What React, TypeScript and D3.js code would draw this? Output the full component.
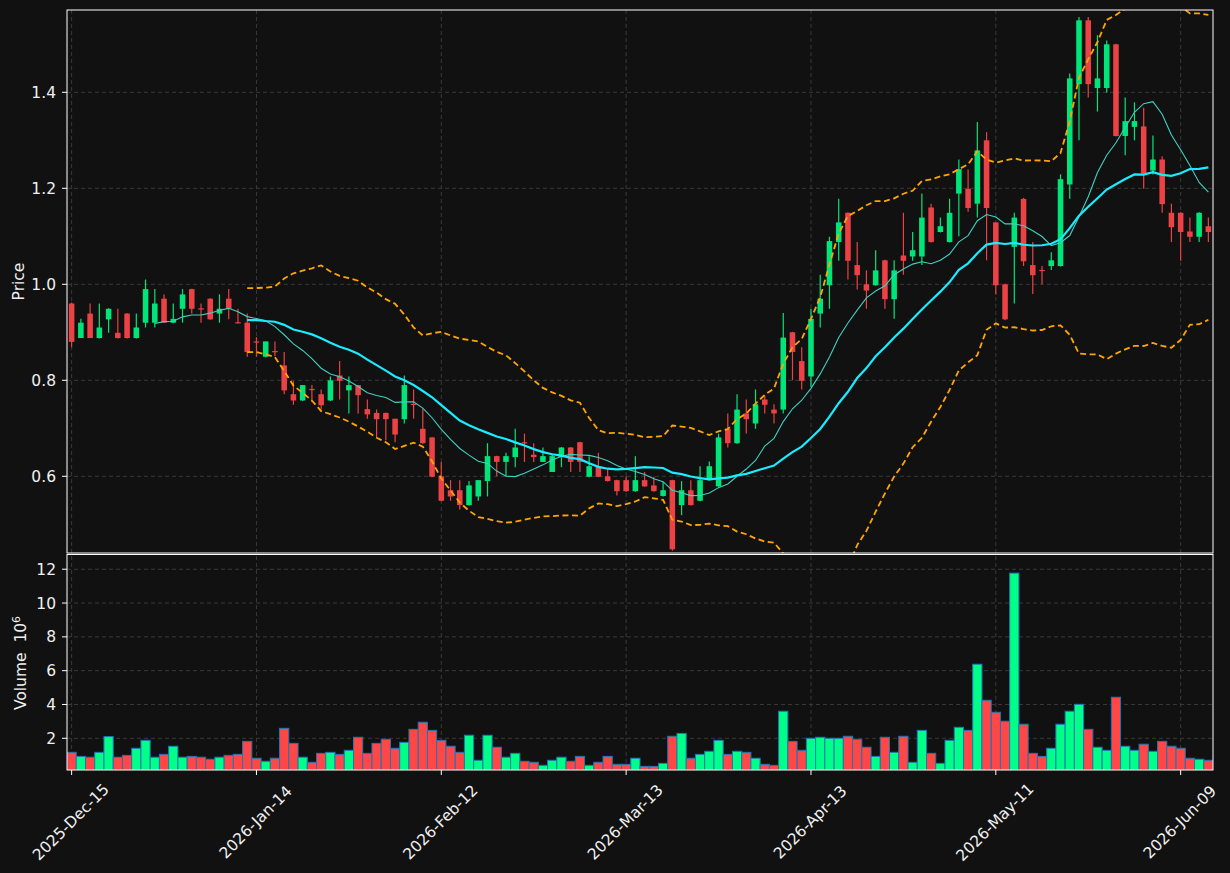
import React from "react";
import * as d3 from "d3";

const opens = [0.96,0.888,0.939,0.888,0.927,0.899,0.939,0.888,0.92,0.92,0.97,0.92,0.949,0.99,0.95,0.97,0.939,0.97,0.921,0.92,0.881,0.849,0.861,0.831,0.771,0.758,0.782,0.771,0.758,0.81,0.779,0.79,0.74,0.732,0.732,0.72,0.719,0.751,0.699,0.681,0.6,0.571,0.571,0.54,0.558,0.59,0.642,0.63,0.64,0.671,0.645,0.63,0.609,0.64,0.66,0.671,0.599,0.621,0.6,0.592,0.592,0.569,0.592,0.581,0.559,0.592,0.54,0.571,0.549,0.592,0.579,0.699,0.669,0.731,0.71,0.76,0.739,0.739,0.9,0.84,0.808,0.939,0.998,1.088,1.149,1.04,1.0,0.998,1.05,0.969,1.06,1.058,1.058,1.16,1.109,1.088,1.189,1.199,1.168,1.3,1.129,1.0,1.078,1.178,1.04,1.03,1.038,1.038,1.208,1.417,1.55,1.409,1.409,1.5,1.309,1.328,1.329,1.237,1.26,1.149,1.149,1.11,1.099,1.121];
const highs = [0.962,0.928,0.96,0.96,0.95,0.949,0.94,0.939,1.01,0.99,0.979,0.96,0.99,0.991,0.96,0.971,0.979,0.99,0.949,0.939,0.89,0.881,0.881,0.859,0.798,0.79,0.79,0.781,0.808,0.84,0.808,0.79,0.76,0.739,0.733,0.72,0.81,0.781,0.741,0.682,0.63,0.592,0.592,0.59,0.592,0.669,0.643,0.649,0.699,0.689,0.669,0.66,0.647,0.661,0.661,0.672,0.642,0.649,0.616,0.593,0.6,0.642,0.609,0.599,0.588,0.593,0.59,0.592,0.621,0.631,0.689,0.731,0.771,0.76,0.781,0.769,0.75,0.94,0.901,0.869,0.949,1.02,1.099,1.178,1.15,1.088,1.029,1.071,1.051,1.05,1.149,1.109,1.189,1.168,1.139,1.178,1.26,1.239,1.338,1.317,1.13,1.001,1.149,1.18,1.088,1.038,1.067,1.229,1.439,1.557,1.557,1.519,1.508,1.501,1.389,1.379,1.368,1.31,1.267,1.168,1.15,1.139,1.15,1.139];
const lows = [0.869,0.888,0.888,0.887,0.899,0.887,0.887,0.887,0.91,0.91,0.92,0.919,0.92,0.939,0.92,0.926,0.92,0.927,0.919,0.849,0.849,0.848,0.85,0.771,0.749,0.757,0.755,0.739,0.757,0.76,0.731,0.731,0.72,0.682,0.675,0.671,0.71,0.72,0.668,0.598,0.548,0.549,0.531,0.539,0.549,0.558,0.6,0.6,0.619,0.63,0.63,0.63,0.609,0.619,0.609,0.609,0.598,0.598,0.589,0.56,0.568,0.568,0.578,0.568,0.558,0.445,0.519,0.539,0.548,0.591,0.578,0.66,0.668,0.689,0.699,0.731,0.71,0.731,0.8,0.781,0.786,0.91,0.949,1.049,1.01,0.989,0.949,0.997,0.949,0.928,1.02,1.049,1.04,1.087,1.108,1.087,1.1,1.151,1.139,1.05,0.979,0.925,0.96,1.038,0.98,1.0,1.03,1.037,1.178,1.3,1.389,1.36,1.399,1.308,1.269,1.3,1.199,1.229,1.149,1.088,1.049,1.088,1.088,1.088];
const closes = [0.88,0.92,0.888,0.91,0.949,0.888,0.888,0.91,0.99,0.96,0.92,0.928,0.979,0.949,0.948,0.927,0.949,0.949,0.919,0.859,0.879,0.881,0.859,0.779,0.758,0.79,0.78,0.748,0.8,0.799,0.79,0.769,0.729,0.719,0.719,0.687,0.79,0.749,0.669,0.599,0.549,0.558,0.54,0.581,0.592,0.642,0.63,0.642,0.66,0.669,0.64,0.642,0.642,0.66,0.63,0.63,0.621,0.599,0.59,0.569,0.569,0.592,0.579,0.569,0.571,0.448,0.571,0.54,0.592,0.621,0.681,0.669,0.739,0.719,0.75,0.749,0.731,0.889,0.859,0.799,0.928,0.97,1.09,1.129,1.049,1.019,0.987,1.029,0.969,1.029,1.049,1.071,1.139,1.088,1.121,1.149,1.24,1.159,1.279,1.159,0.998,0.927,1.139,1.048,1.019,1.028,1.05,1.219,1.429,1.55,1.417,1.429,1.5,1.309,1.34,1.34,1.231,1.26,1.167,1.119,1.109,1.099,1.149,1.109];
const volumes = [1.17,0.93,0.88,1.17,2.10,0.88,0.99,1.41,1.88,0.88,1.05,1.53,0.88,0.93,0.88,0.76,0.88,0.99,1.05,1.82,0.82,0.64,0.82,2.59,1.70,0.88,0.58,1.11,1.17,1.05,1.29,2.06,1.11,1.70,1.94,1.41,1.76,2.53,2.95,2.47,1.88,1.53,1.17,2.18,0.70,2.18,1.47,0.88,1.11,0.64,0.58,0.40,0.70,0.88,0.64,0.93,0.40,0.58,0.93,0.46,0.46,0.82,0.34,0.34,0.52,2.12,2.29,0.82,1.05,1.23,1.88,1.05,1.23,1.17,0.82,0.46,0.40,3.60,1.82,1.29,2.0,2.06,2.0,2.0,2.12,1.94,1.47,0.93,2.06,1.17,2.12,0.58,2.47,1.11,0.52,1.88,2.65,2.47,6.38,4.25,3.54,3.01,11.77,2.83,1.11,0.93,1.41,2.83,3.60,4.01,2.53,1.47,1.29,4.43,1.53,1.29,1.65,1.23,1.82,1.53,1.41,0.82,0.76,0.70];

const tickIndex = [0, 20, 40, 60, 80, 100, 120];
const tickLabels = ["2025-Dec-15", "2026-Jan-14", "2026-Feb-12", "2026-Mar-13", "2026-Apr-13", "2026-May-11", "2026-Jun-09"];
const priceTicks = [0.6, 0.8, 1.0, 1.2, 1.4];
const volumeTicks = [2, 4, 6, 8, 10, 12];

const W = 1230, H = 873;
const L = 67, R = 1213, T = 10, MID = 553, B = 770;

function rolling(vals: number[], n: number) {
  return vals.map((_, i) => {
    if (i < n - 1) return null;
    const w = vals.slice(i - n + 1, i + 1);
    const m = d3.mean(w) as number;
    const sd = Math.sqrt(d3.mean(w.map(v => (v - m) * (v - m))) as number);
    return { m, sd };
  });
}

export default function App() {
  const n = closes.length;
  const x = d3.scaleLinear().domain([-0.5, n - 0.5]).range([L, R]);
  const y = d3.scaleLinear().domain([0.4402, 1.5715]).range([MID, T]);
  const yv = d3.scaleLinear().domain([0.124, 12.96]).range([B, MID]);
  const step = x(1) - x(0);

  const ma10 = rolling(closes, 10);
  const ma20 = rolling(closes, 20);
  const mk = (acc: (d: any) => number) =>
    d3.line<any>().defined(d => d.v != null).x(d => x(d.i)).y(d => y(acc(d.v)));
  const pts = (arr: any[]) => arr.map((v, i) => ({ i, v }));
  const ma10Path = mk(v => v.m)(pts(ma10));
  const ma20Path = mk(v => v.m)(pts(ma20));
  const upPath = mk(v => v.m + 2 * v.sd)(pts(ma20));
  const loPath = mk(v => v.m - 2 * v.sd)(pts(ma20));

  const upC = "#00e57a", dnC = "#ec4245";
  const upV = "#00ff88", dnV = "#ff4747";
  const grid = "#3e3e3e";
  const txt = "#f0f0f0";
  const fs = 15.5;
  const font = "DejaVu Sans, sans-serif";

  return (
    <svg width={W} height={H} style={{ position: "absolute", left: 0, top: 0, display: "block" }} fontFamily={font}>
      <rect x={0} y={0} width={W} height={H} fill="#111111" />
      <defs>
        <clipPath id="mainClip"><rect x={L} y={T} width={R - L} height={MID - T} /></clipPath>
        <clipPath id="volClip"><rect x={L} y={MID} width={R - L} height={B - MID} /></clipPath>
      </defs>
      {tickIndex.map(t => (
        <line key={"vg" + t} x1={x(t)} x2={x(t)} y1={T} y2={B} stroke={grid} strokeWidth={0.9} strokeDasharray="4,3" />
      ))}
      {priceTicks.map(p => (
        <line key={"pg" + p} x1={L} x2={R} y1={y(p)} y2={y(p)} stroke={grid} strokeWidth={0.9} strokeDasharray="4,3" />
      ))}
      {volumeTicks.map(v => (
        <line key={"vgv" + v} x1={L} x2={R} y1={yv(v)} y2={yv(v)} stroke={grid} strokeWidth={0.9} strokeDasharray="4,3" />
      ))}
      <g clipPath="url(#mainClip)">
        {closes.map((c, i) => {
          const o = opens[i];
          const up = c >= o;
          const col = up ? upC : dnC;
          const top = y(Math.max(o, c));
          const bot = y(Math.min(o, c));
          const bw = step * 0.6;
          return (
            <g key={"c" + i}>
              <line x1={x(i)} x2={x(i)} y1={y(highs[i])} y2={y(lows[i])} stroke={col} strokeWidth={1.2} />
              <rect x={x(i) - bw / 2} y={top} width={bw} height={Math.max(bot - top, 1.2)} fill={col} />
            </g>
          );
        })}
        <path d={upPath || ""} fill="none" stroke="#ffa500" strokeWidth={1.8} strokeDasharray="6,3.5" />
        <path d={loPath || ""} fill="none" stroke="#ffa500" strokeWidth={1.8} strokeDasharray="6,3.5" />
        <path d={ma10Path || ""} fill="none" stroke="#40d0c0" strokeWidth={1.1} />
        <path d={ma20Path || ""} fill="none" stroke="#19ecff" strokeWidth={2.2} />
      </g>
      <g clipPath="url(#volClip)">
        {volumes.map((v, i) => {
          const up = closes[i] >= opens[i];
          return (
            <rect key={"v" + i} x={x(i) - step / 2} y={yv(v)} width={step} height={B - yv(v) + 2}
              fill={up ? upV : dnV} stroke="#1f77b4" strokeWidth={1} />
          );
        })}
      </g>
      <rect x={L} y={T} width={R - L} height={MID - T} fill="none" stroke="white" strokeWidth={1} />
      <rect x={L} y={MID + 1.5} width={R - L} height={B - MID - 1.5} fill="none" stroke="white" strokeWidth={1} />
      {priceTicks.map(p => (
        <g key={"pt" + p}>
          <line x1={L - 5} x2={L} y1={y(p)} y2={y(p)} stroke="white" strokeWidth={1} />
          <text x={L - 11} y={y(p)} dy="0.36em" textAnchor="end" fill={txt} fontSize={fs}>{p.toFixed(1)}</text>
        </g>
      ))}
      {volumeTicks.map(v => (
        <g key={"vt" + v}>
          <line x1={L - 5} x2={L} y1={yv(v)} y2={yv(v)} stroke="white" strokeWidth={1} />
          <text x={L - 11} y={yv(v)} dy="0.36em" textAnchor="end" fill={txt} fontSize={fs}>{v}</text>
        </g>
      ))}
      {tickIndex.map((t, k) => (
        <g key={"xt" + t}>
          <line x1={x(t)} x2={x(t)} y1={B} y2={B + 5} stroke="white" strokeWidth={1} />
          <text transform={`translate(${x(t) - 1},822) rotate(-45)`} textAnchor="middle" dy="0.35em" fill={txt} fontSize={fs}>{tickLabels[k]}</text>
        </g>
      ))}
      <text transform={`translate(24,${(T + MID) / 2}) rotate(-90)`} textAnchor="middle" fill={txt} fontSize={fs}>Price</text>
      <text transform={`translate(26,663) rotate(-90)`} textAnchor="middle" fill={txt} fontSize={fs}>
        {"Volume\u00a0\u00a010"}<tspan fontSize={11} dy="-6">6</tspan>
      </text>
    </svg>
  );
}
